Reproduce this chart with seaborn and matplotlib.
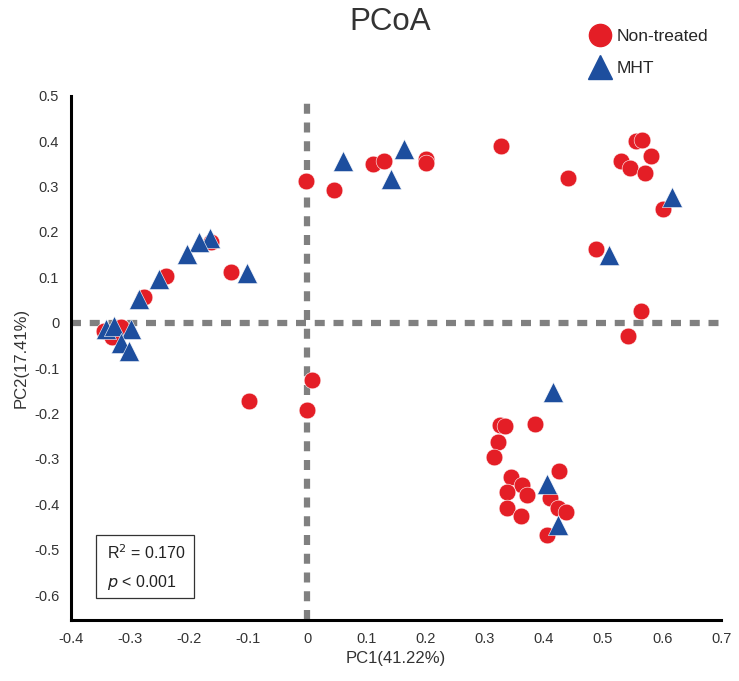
import pandas as pd
import seaborn as sns
import matplotlib.pyplot as plt
from matplotlib.lines import Line2D

# PCoA coordinates
ctrl_pc1 = [-0.344, -0.330, -0.316, -0.276, -0.240, -0.163, -0.129, -0.098,
            0.000, 0.008, -0.002, 0.045, 0.111, 0.129, 0.200, 0.201, 0.327,
            0.440, 0.556, 0.566, 0.581, 0.530, 0.545, 0.571, 0.602, 0.488,
            0.564, 0.542, 0.325, 0.334, 0.385, 0.323, 0.316, 0.425, 0.344,
            0.363, 0.337, 0.372, 0.411, 0.338, 0.424, 0.437, 0.361, 0.406]
ctrl_pc2 = [-0.018, -0.031, -0.009, 0.057, 0.103, 0.177, 0.112, -0.172,
            -0.192, -0.126, 0.312, 0.291, 0.349, 0.355, 0.360, 0.352, 0.390,
            0.319, 0.400, 0.403, 0.368, 0.356, 0.340, 0.330, 0.250, 0.163,
            0.025, -0.030, -0.225, -0.227, -0.223, -0.263, -0.297, -0.326, -0.341,
            -0.358, -0.372, -0.379, -0.387, -0.409, -0.409, -0.418, -0.425, -0.467]

mht_pc1 = [-0.165, -0.183, -0.204, -0.102, -0.251, -0.285, -0.341, -0.327,
           -0.299, -0.316, -0.302, 0.061, 0.141, 0.163, 0.617, 0.510, 0.415,
           0.405, 0.424]
mht_pc2 = [0.187, 0.177, 0.152, 0.110, 0.097, 0.051, -0.013, -0.007,
           -0.013, -0.044, -0.063, 0.355, 0.316, 0.382, 0.277, 0.149, -0.153,
           -0.355, -0.446]

groups = ['Non-treated', 'MHT']
colors = {'Non-treated': '#E41E26', 'MHT': '#1D4E9E'}
markers = {'Non-treated': 'o', 'MHT': '^'}

df = pd.DataFrame({
    'PC1': ctrl_pc1 + mht_pc1,
    'PC2': ctrl_pc2 + mht_pc2,
    'group': ['Non-treated'] * len(ctrl_pc1) + ['MHT'] * len(mht_pc1),
})

sns.set_style('white')
plt.rcParams['font.family'] = ['Liberation Sans', 'DejaVu Sans']

fig = plt.figure(figsize=(7.39, 6.81), dpi=100)
ax = fig.add_axes([0.096, 0.0896, 0.88, 0.77])

ax.axvline(0, color='#808080', lw=4.5, ls=(0, (1.6, 1.4)), zorder=1)
ax.axhline(0, color='#808080', lw=4.5, ls=(0, (1.6, 1.4)), zorder=1)

for g in groups:
    sub = df[df['group'] == g]
    sns.scatterplot(data=sub, x='PC1', y='PC2', color=colors[g],
                    marker=markers[g], s=145 if g == 'Non-treated' else 210,
                    edgecolor='white', linewidth=0.4, ax=ax, zorder=3, legend=False)

ax.set_xlim(-0.4, 0.7)
ax.set_ylim(-0.655, 0.5)
ax.set_xticks([i / 10 for i in range(-4, 8)])
ax.set_yticks([i / 10 for i in range(-6, 6)])
ax.set_xticklabels(['-0.4', '-0.3', '-0.2', '-0.1', '0', '0.1', '0.2', '0.3',
                    '0.4', '0.5', '0.6', '0.7'])
ax.set_yticklabels(['-0.6', '-0.5', '-0.4', '-0.3', '-0.2', '-0.1', '0', '0.1',
                    '0.2', '0.3', '0.4', '0.5'])
ax.tick_params(direction='out', length=5, width=2, colors='black',
               labelcolor='#333333', labelsize=10.5)
for s in ['top', 'right']:
    ax.spines[s].set_visible(False)
for s in ['left', 'bottom']:
    ax.spines[s].set_linewidth(2.2)
    ax.spines[s].set_color('black')

ax.set_xlabel('PC1(41.22%)', fontsize=12, color='#333333')
ax.set_ylabel('PC2(17.41%)', fontsize=12, color='#333333')
fig.text(0.528, 0.967, 'PCoA', ha='center', va='center', fontsize=22.5, color='#333333')

ax.text(0.055, 0.128, 'R$^2$ = 0.170', transform=ax.transAxes, fontsize=11.5,
        color='#222222', va='center')
ax.text(0.055, 0.072, '$\\it{p}$ < 0.001', transform=ax.transAxes, fontsize=11.5,
        color='#222222', va='center')
box = plt.Rectangle((0.038, 0.042), 0.151, 0.12, transform=ax.transAxes,
                    fill=False, edgecolor='#333333', lw=0.9, zorder=4)
ax.add_patch(box)

handles = [Line2D([], [], ls='', marker=markers[g], color=colors[g],
                  markersize=16 if g == 'Non-treated' else 17) for g in groups]
fig.legend(handles, groups, loc='upper left', bbox_to_anchor=(0.775, 0.98),
           frameon=False, fontsize=12.5, handletextpad=0.35, labelspacing=0.95,
           handlelength=1.3)

fig.savefig('out.png', dpi=100)
